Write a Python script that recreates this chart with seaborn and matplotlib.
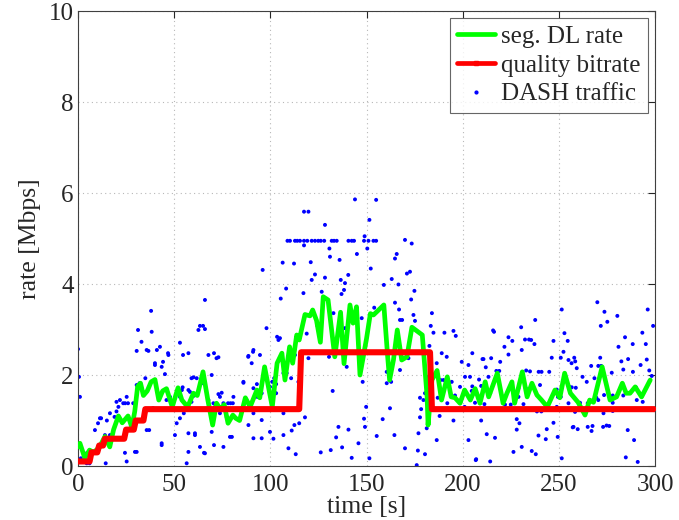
import matplotlib
matplotlib.use("Agg")
import matplotlib.pyplot as plt
import seaborn as sns
import pandas as pd
from matplotlib.lines import Line2D

# ---------------- data ----------------
seg_t = [0, 1, 3.5, 6, 8, 11, 14, 16.5, 18.5, 21, 23, 26, 28, 29.5, 31, 32.5, 34, 36, 38, 40,
         42, 44, 46, 49, 52, 54, 57, 60, 62, 65, 67.5, 70, 72, 74, 76, 78, 80.5, 82, 84, 87,
         89.5, 93, 94.5, 97, 101, 103.5, 106, 107.6, 110, 111.6, 113.7, 115, 118, 120.6, 122, 124,
         126, 127.5, 130, 133.5, 136.5, 138.3, 141.4, 143, 144.8, 146.6, 150, 152, 153.6, 159, 161,
         162, 164, 166, 168.3, 171, 173.6, 179, 181.5, 182, 184, 186.7, 189, 192, 194, 196, 198.6,
         201, 204, 206.5, 209, 211.7, 213.5, 218, 221, 223, 225.6, 227, 231, 233.5, 236, 238.6, 241,
         244, 248, 250.5, 253, 256, 260, 263.6, 266, 268, 272.5, 276.6, 280, 283, 285, 287, 289.7,
         293, 297.5]
seg_rate = [0.42, 0.5, 0.18, 0.35, 0.3, 0.4, 0.65, 0.42, 0.8, 1.1, 0.95, 1.1, 0.85, 1.2, 1.75, 1.82, 1.55, 1.65, 1.85, 1.9,
            1.45, 1.65, 1.7, 1.3, 1.72, 1.45, 1.3, 1.6, 1.55, 2.07, 1.45, 0.9, 1.38, 1.25, 1.35, 0.94, 1.12, 1.05, 1.0, 1.5,
            1.3, 1.67, 1.5, 2.18, 1.3, 2.26, 2.48, 1.89, 2.62, 2.26, 2.88, 2.77, 3.33, 3.3, 3.43, 3.2,
            2.72, 3.72, 3.65, 2.4, 3.38, 2.25, 3.54, 3.14, 3.5, 2.0, 2.8, 3.35, 3.32, 3.54, 2.4,
            1.89, 2.33, 2.99, 2.33, 2.4, 3.05, 2.88, 1.52, 0.9, 1.89, 2.1, 1.45, 1.96, 1.52, 1.5, 1.38,
            1.67, 1.45, 1.7, 1.38, 1.85, 1.52, 2.04, 1.38, 1.6, 1.85, 1.38, 2.07, 1.52, 1.82, 1.56, 1.45,
            1.3, 1.67, 1.5, 2.04, 1.6, 1.4, 1.12, 1.45, 1.4, 2.18, 1.45, 1.52, 1.82, 1.6, 1.6, 1.74,
            1.52, 1.89]

q_t = [0, 6, 7, 10, 11, 13, 14, 24, 25, 29, 30, 34, 35, 115, 116, 183, 184, 300]
q_rate = [0.1, 0.1, 0.3, 0.3, 0.45, 0.45, 0.6, 0.6, 0.8, 0.8, 1.0, 1.0, 1.25, 1.25, 2.5, 2.5, 1.25, 1.25]

dash_pts = [
 (0,2.57),(0.5,1.96),(1,1.52),(1.5,0.17),(4.5,0.28),(6.2,0.31),(4.5,0.06),(6,0.06),(8.8,0.79),(10.4,0.94),
 (11.4,1.05),(12,1.05),(14,0.68),(14.4,0.06),(15,1.0),(16.6,1.16),(16.6,0.68),(19,1.08),(20,1.2),(20,1.41),
 (21,1.3),(21.8,1.45),(23.5,1.38),(24.5,1.38),(25.3,1.52),(26,1.38),(28.7,1.38),(30.5,1.78),(31.2,2.99),(32,1.82),
 (33,2.73),(35,1.93),(35.7,2.55),(38,3.41),(38.3,2.95),(41,2.55),(42.6,2.62),(43.5,2.18),(44.2,2.29),(40,2.22),
 (45.2,2.02),(46.8,2.48),(39,1.27),(35.7,0.79),(24.4,0.29),(25.3,0.1),(29.6,0.31),(43.5,0.5),(50.4,0.68),(51.3,0.94),
 (54.6,2.44),(55,1.16),(30.5,2.53),(36.6,2.53),(40,2.26),(47,2.44),(53,2.71),(57.4,2.48),(63.4,3.08),(65,3.08),
 (66,3.01),(67.8,2.44),(70.7,2.48),(72,2.37),(86,1.85),(88.5,2.4),(91,2.51),
 (30.5,0.31),(37,0.79),(43.5,0.46),(56.5,0.06),(57.4,0.72),(60.8,0.72),(63.4,0.42),(66,0.28),(69.5,0.75),(70.7,0.46),
 (75.6,0.42),(79,0.64),(88.6,0.9),
 (62.6,2.99),(66,3.65),(73,2.39),(60,1.95),(64.3,1.82),(69.5,2.0),(54.4,1.73),(58.2,1.63),(60,1.54),(59,1.41),
 (67.8,1.45),(70.4,1.38),(71.2,1.3),(73,1.58),(74.7,1.61),(73.8,1.52),(75.6,1.38),(78,1.38),(79.3,1.38),(80.5,1.38),
 (80.8,1.52),(86,1.83),(88.6,2.42),(90.3,2.26),(91.2,2.55),(91.2,1.71),(94.6,2.44),(96,4.31),(98,3.03),(99.8,1.74),
 (102.4,1.89),(104.2,2.77),(105,2.81),(105.4,3.68),(106.4,4.47),(108.5,2.04),
 (53,1.05),(60.8,0.68),(57.4,0.31),(65.5,0.29),(80,0.64),(77.3,1.08),(95.5,0.61),(99.8,0.75),(109.4,0.39),
 (46,1.45),(47.8,1.52),(53,1.52),(54,1.67),(57.4,1.67),(59,1.93),(61.7,1.93),(67,1.23),(69.5,1.16),(73.8,1.16),
 (103.5,2.84),(97.2,2.07),(93,1.8),(95.5,1.6),(93.2,1.52),(101,1.85),(102,1.93),(103,1.8),(103,1.6),(106.8,2.04),
 (101.2,1.39),(91.2,1.16),(95.5,1.01),(106.8,1.16),(91.2,0.61),(101.6,0.6),(113.2,0.26),
 (144,5.86),(155,5.85),(117.5,5.59),(119.8,5.59),(128.4,5.3),(151.5,5.41),
 (108.9,4.95),(110.2,4.95),(112.8,4.95),(114,4.95),(115.4,4.95),(117.5,4.95),(119.2,4.95),(121.5,4.95),(123.2,4.95),
 (124.9,4.95),(126.2,4.95),(128,4.95),(131.9,4.95),(133.1,4.95),(134.5,4.95),(140.6,4.95),(142.3,4.95),(143.5,4.95),
 (148.7,4.95),(151,4.95),(153.6,4.95),(155,4.95),
 (117.5,4.85),(149,5.05),(130.7,4.78),(150.4,4.78),(131,4.6),(136,4.53),(145,4.66),(112.3,4.45),(121,4.48),(152.2,4.34),
 (123.2,4.21),(140.5,4.2),(128.4,4.14),(121.5,4.09),(136.6,4.09),(138.8,4.02),(108.2,3.9),(138.3,3.87),(159,3.98),(126.7,3.83),
 (117.2,3.8),(137,3.78),(132.8,3.36),(154,3.48),(147.5,3.25),(124.5,3.08),(138.8,3.03),(118.9,2.91),(112.8,2.44),(119.8,2.37),
 (130.5,2.4),(139.7,2.18),(148,1.85),(110.8,1.93),(160.5,1.82),(114.6,1.85),(115.8,1.89),(113.4,1.23),(118,1.07),(132.4,1.65),
 (106.8,0.68),(111.1,0.78),(112.5,0.9),(115,0.94),(135.4,0.86),(140.6,0.8),(134.2,0.63),(149.2,0.86),(149.8,1.3),(148.7,1.04),
 (155.3,0.66),(158.4,1.03),(126.2,0.3),(131.4,0.35),(137.3,0.41),(142.3,0.18),(145.8,0.5),(151.5,0.17),
 (170,4.97),(173.5,4.89),(165.7,4.66),(164.8,4.56),(172.6,4.27),(171,4.23),(163.1,4.11),(166.6,3.99),(174.9,3.85),(173.2,3.66),
 (164.8,3.59),(166.9,3.44),(174.4,3.32),(184,3.36),(167.4,3.21),(168.5,3.21),(175.2,3.19),(165.7,2.86),(183.4,3.08),(184.8,2.93),
 (190.5,2.93),(195.2,2.97),(196.4,2.86),(182.7,2.64),(189.1,2.48),(191.7,2.4),(205,2.48),(210.8,2.35),(171.8,2.37),(186.5,2.26),
 (199.5,2.29),(203,2.22),(160.5,2.07),(167.4,2.11),(182.2,1.96),(201.2,1.96),(203.8,1.96),(190,1.89),(188.5,1.89),(194.3,1.85),
 (198.6,1.74),(162.8,1.85),(204.7,1.65),(180.4,1.6),(177.8,1.5),(179.6,1.45),(178.4,1.25),(177.8,1.07),(181.3,0.83),(162.2,1.27),
 (177,0.72),(164.5,0.68),(186.5,0.57),(195.2,1.0),(203,0.57),(170,0.39),(176.7,0.34),(180.4,0.26),(176.1,0.02),(206.8,0.13),
 (187,1.5),(192,1.38),(196,1.55),(199,1.42),(201,1.3),(205,1.75),(188,1.1),
 (237.7,3.21),(251.5,3.44),(215.8,2.98),(216.3,2.95),(223.8,2.83),(225.8,2.75),(230.4,3.05),(232.4,2.78),(234.5,2.78),(235.6,2.77),
 (237.3,2.68),(247.2,2.75),(252.9,2.92),(221.7,2.62),(230.7,2.55),(252.4,2.51),(210.3,2.35),(214.8,2.37),(223.8,2.45),(219.5,2.29),
 (251,2.38),(255,2.33),(258,2.38),(246.3,2.38),(212,2.17),(217.5,2.09),(219,2.09),(233,2.1),(235,2.08),(213.4,1.96),
 (208.5,1.9),(239.5,2.07),(241,2.07),(245,2.07),(229,1.71),(240.2,1.78),(248.9,1.68),(255.5,1.74),(209.6,1.76),(214.3,1.6),
 (221.2,1.52),(229,1.52),(232.8,1.71),(249.5,1.52),(251,1.52),(206.4,1.39),(211.3,1.36),(222,1.35),(225,1.35),(231.6,1.36),
 (238.6,1.2),(240.9,1.2),(248.9,1.3),
 (209.6,1.0),(212.5,0.7),(216.8,0.62),(228.1,1.03),(229.5,0.94),(228.1,0.8),(239.4,0.67),(243.2,0.59),(243.7,0.81),(247.2,0.95),
 (249.4,0.64),(257.6,0.86),(226.4,0.31),(230.7,0.42),(235.9,0.33),(238,0.26),(251.5,0.17),(207,0.15),(214.3,0.1),
 (270,3.6),(273.7,3.39),(271.8,3.08),(275.2,3.17),(280.4,3.3),(296.2,3.44),(299,3.08),(284.4,2.83),(281,2.62),(288.4,2.68),
 (293.4,2.93),(295.2,2.68),(254.6,2.75),(256.6,2.26),(258.5,2.3),(259.3,2.15),(266.8,2.2),(270.5,2.2),(272,2.2),(271.5,2.38),
 (277.5,2.05),(282.5,2.3),(286,2.35),(283.5,2.12),(288.5,2.07),(292.5,2.22),(297,2.1),(295.7,2.34),(298.3,1.98),(262.3,1.96),
 (264.5,1.85),(268.5,1.93),(256.7,1.73),(258.8,1.72),(278,1.55),(283.5,1.55),(290.5,1.45),(255,1.38),(261,1.39),(269.5,1.5),
 (270.5,1.45),(265,1.38),(273.5,1.56),(278,1.39),(290,1.73),(293.6,1.41),
 (258.4,1.19),(273.2,1.16),(278,1.21),(257.2,0.85),(259.8,0.81),(265,0.86),(267.5,0.88),(273,0.86),(274.8,0.89),(276.2,0.88),
 (285.8,0.79),(267,0.77),(289.1,0.57),(284.8,0.19),(291,0.09),
]
dash_t = [p[0] for p in dash_pts]
dash_rate = [p[1] for p in dash_pts]

x_ticks = [0, 50, 100, 150, 200, 250, 300]
y_ticks = [0, 2, 4, 6, 8, 10]

# ---------------- style ----------------
sns.set_style("white")
plt.rcParams["font.family"] = ["Liberation Serif", "DejaVu Serif"]

fig = plt.figure(figsize=(6.79, 5.20), dpi=100)
ax = fig.add_axes([0.1149, 0.1038, 0.8498, 0.875])

df_dash = pd.DataFrame({"t": dash_t, "r": dash_rate})
df_seg = pd.DataFrame({"t": seg_t, "r": seg_rate})
df_q = pd.DataFrame({"t": q_t, "r": q_rate})

sns.scatterplot(data=df_dash, x="t", y="r", ax=ax, color="#0000ff", s=8,
                edgecolor="none", zorder=2, legend=False)
sns.lineplot(data=df_seg, x="t", y="r", ax=ax, color="#00ff00", linewidth=3.4,
             sort=False, estimator=None, zorder=3, legend=False)
sns.lineplot(data=df_q, x="t", y="r", ax=ax, color="#ff0000", linewidth=4.4,
             sort=False, estimator=None, zorder=4, legend=False,
             marker="s", markersize=3, markeredgewidth=0)

ax.set_xlim(0, 300)
ax.set_ylim(0, 10)
ax.set_xticks(x_ticks)
ax.set_yticks(y_ticks)
ax.set_xticklabels([str(v) for v in x_ticks])
ax.set_yticklabels([str(v) for v in y_ticks])
ax.tick_params(direction="in", length=5, width=0.8, top=True, right=True,
               labelsize=18, colors="#262626")
ax.tick_params(axis="x", pad=6)
ax.tick_params(axis="y", pad=3)
ax.grid(True, linestyle=(0, (1, 3)), color="#b8b8b8", linewidth=0.8)
for s in ax.spines.values():
    s.set_color("#404040")
    s.set_linewidth(0.8)

ax.set_xlabel("time [s]", fontsize=18.5, labelpad=0)
ax.set_ylabel("rate [Mbps]", fontsize=18.5, labelpad=6)

handles = [
    Line2D([], [], color="#00ff00", linewidth=3.4),
    Line2D([], [], color="#ff0000", linewidth=3.4, marker="s", markersize=3),
    Line2D([], [], color="#0000ff", linestyle="none", marker="o", markersize=2),
]
leg = ax.legend(handles, ["seg. DL rate", "quality bitrate", "DASH traffic"],
                loc="upper right", bbox_to_anchor=(0.988, 0.985), fontsize=18,
                frameon=True, fancybox=False, edgecolor="#404040",
                handlelength=1.5, handletextpad=0.25, borderpad=0.3,
                labelspacing=0.25, borderaxespad=0.0)
leg.get_frame().set_linewidth(0.8)

fig.savefig("out.png", dpi=100)
